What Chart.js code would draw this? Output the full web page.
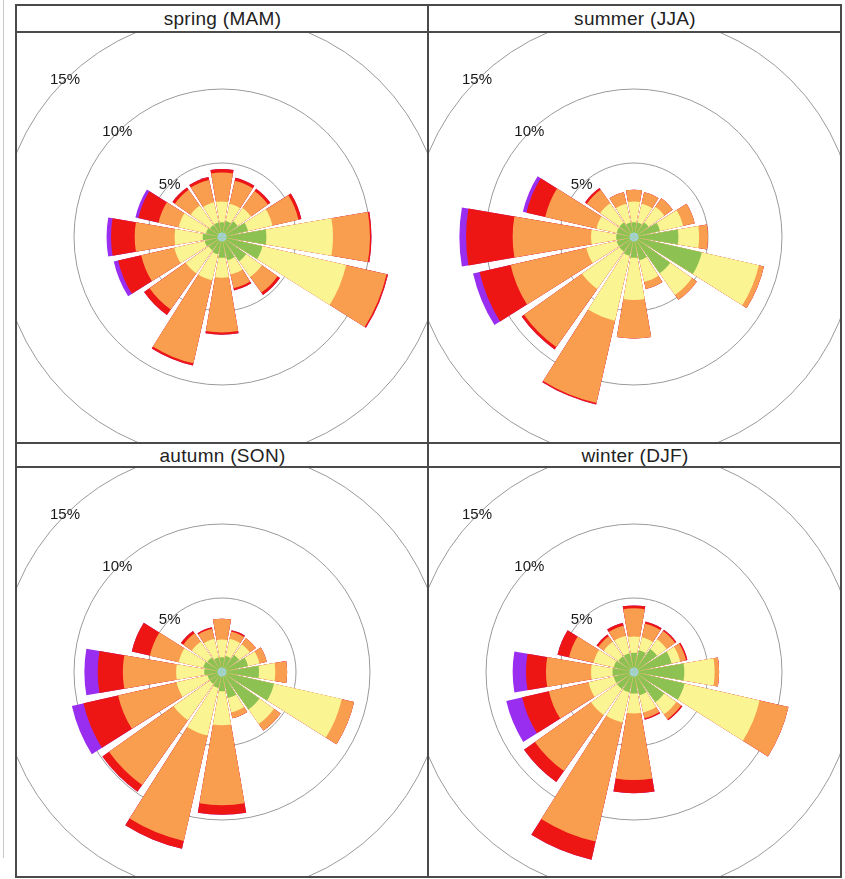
<!DOCTYPE html>
<html>
<head>
<meta charset="utf-8">
<script src="https://cdn.jsdelivr.net/npm/chart.js@4.4.1/dist/chart.umd.min.js"></script>
<style>
  html, body { margin: 0; padding: 0; background: #fff; }
  body { width: 845px; height: 879px; position: relative; overflow: hidden; font-family: "Liberation Sans", Arial, Helvetica, sans-serif; }
  .line { position: absolute; background: #4a4a4a; }
  .faint { position: absolute; background: #c8c8c8; }
  .hdr { position: absolute; text-align: center; font-size: 19px; color: #222; letter-spacing: 0.3px; }
  .plot { position: absolute; overflow: hidden; }
  .plot canvas { position: absolute; }
</style>
</head>
<body>
<div class="faint" style="left:3px;top:0;width:1px;height:858px"></div>

<div class="hdr" style="left:17px;top:5px;width:411px;height:27px;line-height:27px">spring (MAM)</div>
<div class="hdr" style="left:429px;top:5px;width:412px;height:27px;line-height:27px">summer (JJA)</div>
<div class="hdr" style="left:17px;top:443px;width:411px;height:24px;line-height:25px">autumn (SON)</div>
<div class="hdr" style="left:429px;top:443px;width:412px;height:24px;line-height:25px">winter (DJF)</div>

<div class="plot" style="left:17px;top:33px;width:411px;height:410px"><canvas id="c0" width="592" height="592" style="left:-91px;top:-92px;width:592px;height:592px"></canvas></div>
<div class="plot" style="left:429px;top:33px;width:411px;height:410px"><canvas id="c1" width="592" height="592" style="left:-91px;top:-92px;width:592px;height:592px"></canvas></div>
<div class="plot" style="left:17px;top:468px;width:411px;height:409px"><canvas id="c2" width="592" height="592" style="left:-91px;top:-92px;width:592px;height:592px"></canvas></div>
<div class="plot" style="left:429px;top:468px;width:411px;height:409px"><canvas id="c3" width="592" height="592" style="left:-91px;top:-92px;width:592px;height:592px"></canvas></div>

<!-- frame lines -->
<div class="line" style="left:15px;top:4px;width:827px;height:2px"></div>
<div class="line" style="left:15px;top:31px;width:827px;height:2px"></div>
<div class="line" style="left:15px;top:442px;width:827px;height:2px"></div>
<div class="line" style="left:15px;top:466px;width:827px;height:2px"></div>
<div class="line" style="left:15px;top:876px;width:827px;height:2px"></div>
<div class="line" style="left:15px;top:4px;width:2px;height:874px"></div>
<div class="line" style="left:427px;top:4px;width:2px;height:874px"></div>
<div class="line" style="left:840px;top:4px;width:2px;height:874px"></div>

<script>
// ---------------- data (% of time, per wind-direction sector and speed class) ----------------
const directions = ['N','NNE','NE','ENE','E','ESE','SE','SSE','S','SSW','SW','WSW','W','WNW','NW','NNW'];
const seasons = ['spring (MAM)', 'summer (JJA)', 'autumn (SON)', 'winter (DJF)'];
const speedClasses = ['calm', 'class 1', 'class 2', 'class 3', 'class 4', 'class 5'];
const tickValues = [5, 10, 15];
const tickLabels = ['5%', '10%', '15%'];

const springCalm = [0.3,0.3,0.3,0.3,0.3,0.3,0.3,0.3,0.3,0.3,0.3,0.3,0.3,0.3,0.3,0.3];
const springC1 = [0.7,0.8,1.0,1.5,2.7,2.5,1.7,1.3,1.1,0.9,0.8,0.9,1.0,0.8,0.7,0.7];
const springC2 = [1.4,1.2,1.1,1.7,4.5,5.8,1.3,1.0,1.35,1.8,1.9,2.1,1.9,1.9,1.6,1.4];
const springC3 = [1.95,1.6,1.4,1.8,2.5,2.8,1.3,0.95,3.7,5.75,3.0,2.3,2.7,1.4,1.3,1.55];
const springC4 = [0.25,0.2,0.2,0.2,0.1,0.1,0.2,0.15,0.15,0.15,0.45,1.6,1.6,1.4,0.2,0.2];
const springC5 = [0,0,0,0,0,0,0,0,0,0,0,0.3,0.3,0.2,0,0];

const summerCalm = [0.3,0.3,0.3,0.3,0.3,0.3,0.3,0.3,0.3,0.3,0.3,0.3,0.3,0.3,0.3,0.3];
const summerC1 = [0.7,0.7,0.9,1.5,2.7,4.4,2.7,1.3,1.1,1.0,0.9,0.9,0.9,0.9,0.9,0.7];
const summerC2 = [1.4,1.3,1.3,1.6,1.4,3.95,1.8,1.5,2.85,4.5,3.1,2.1,1.7,1.4,1.6,1.3];
const summerC3 = [0.8,0.8,0.7,0.8,0.6,0.35,0.4,0.5,2.6,5.7,4.8,5.25,5.3,3.55,1.1,0.8];
const summerC4 = [0,0,0,0,0,0,0,0,0,0.1,0.2,2.15,3.15,1.3,0.15,0];
const summerC5 = [0,0,0,0,0,0,0,0,0,0,0,0.45,0.45,0.25,0,0];

const autumnCalm = [0.3,0.3,0.3,0.3,0.3,0.3,0.3,0.3,0.3,0.3,0.3,0.3,0.3,0.3,0.3,0.3];
const autumnC1 = [0.7,0.8,1.1,1.5,2.2,3.3,2.8,1.5,1.0,0.8,0.7,0.7,0.9,1.0,0.9,0.7];
const autumnC2 = [1.2,1.2,0.9,0.8,1.1,4.7,1.2,1.0,2.3,3.3,3.0,2.15,1.9,1.7,1.3,1.3];
const autumnC3 = [1.4,0.5,0.5,0.5,0.8,0.85,0.55,0.4,5.4,7.3,5.35,4.05,3.6,2.0,0.7,0.7];
const autumnC4 = [0,0.1,0,0,0,0,0,0,0.65,0.55,0.55,2.4,1.7,1.25,0.2,0.1];
const autumnC5 = [0,0,0,0,0,0,0,0,0,0,0,0.8,0.9,0,0,0];

const winterCalm = [0.3,0.3,0.3,0.3,0.3,0.3,0.3,0.3,0.3,0.3,0.3,0.3,0.3,0.3,0.3,0.3];
const winterC1 = [1.0,1.2,1.6,2.3,3.1,3.2,2.2,1.3,1.15,1.1,1.1,1.1,1.15,1.1,1.0,1.0];
const winterC2 = [1.1,0.9,0.8,0.6,2.05,5.2,1.0,1.2,1.35,2.1,2.15,1.75,1.45,1.4,1.2,1.2];
const winterC3 = [1.9,0.95,0.7,0.4,0.3,2.0,0.4,0.4,4.5,8.25,4.65,2.75,3.05,1.7,0.45,0.7];
const winterC4 = [0.2,0.15,0.1,0.1,0,0,0.1,0.1,0.9,1.25,0.9,1.85,1.35,0.8,0.15,0.2];
const winterC5 = [0,0,0,0,0,0,0,0,0,0,0,1.1,0.9,0,0,0];

// ---------------- styling ----------------
const classColors = ['#9fd6f2', '#8dc152', '#faf592', '#f99e4e', '#ee1515', '#9a2ef0'];
const WEDGE_DEG = 19.5;
const GAP_DEG = 22.5 - WEDGE_DEG;

const seasonClasses = [
  [springCalm, springC1, springC2, springC3, springC4, springC5],
  [summerCalm, summerC1, summerC2, summerC3, summerC4, summerC5],
  [autumnCalm, autumnC1, autumnC2, autumnC3, autumnC4, autumnC5],
  [winterCalm, winterC1, winterC2, winterC3, winterC4, winterC5]
];

// sector labels interleaved with empty separators (gaps between wedges)
const sectorLabels = [];
directions.forEach(d => { sectorLabels.push(d); sectorLabels.push(''); });

function buildDatasets(classes) {
  const cum = directions.map(() => 0);
  const sets = [];
  classes.forEach((vals, k) => {
    vals.forEach((v, i) => { cum[i] += v; });
    const data = [];
    cum.forEach(c => { data.push(+c.toFixed(3)); data.push(0); });
    sets.push({
      label: speedClasses[k],
      data: data,
      backgroundColor: classColors[k],
      borderWidth: 0,
      angle: (ctx) => (ctx.dataIndex % 2 === 0 ? WEDGE_DEG : GAP_DEG)
    });
  });
  return sets; // first dataset (calm) is drawn last, i.e. on top
}

const nwTickLabels = {
  id: 'nwTickLabels',
  afterDatasetsDraw(chart) {
    const s = chart.scales.r;
    const ctx = chart.ctx;
    const startDeg = chart.options.scales.r.startAngle || 0;
    const extra = (-45 - startDeg) * Math.PI / 180;
    ctx.save();
    ctx.font = '15px "Liberation Sans", Arial, sans-serif';
    ctx.fillStyle = '#1a1a1a';
    ctx.textAlign = 'center';
    ctx.textBaseline = 'middle';
    tickValues.forEach((v, i) => {
      const p = s.getPointPosition(0, s.getDistanceFromCenterForValue(v), extra);
      ctx.fillText(tickLabels[i], p.x, p.y);
    });
    ctx.restore();
  }
};

seasonClasses.forEach((classes, idx) => {
  new Chart(document.getElementById('c' + idx), {
    type: 'polarArea',
    data: { labels: sectorLabels, datasets: buildDatasets(classes) },
    options: {
      responsive: false,
      animation: false,
      layout: { padding: 0 },
      plugins: { legend: { display: false }, tooltip: { enabled: false }, title: { display: false } },
      scales: {
        r: {
          min: 0,
          max: 20,
          startAngle: -WEDGE_DEG / 2,
          ticks: { display: false, stepSize: 5 },
          grid: { circular: true, color: '#9a9a9a', lineWidth: 1 },
          angleLines: { display: false },
          pointLabels: { display: false }
        }
      }
    },
    plugins: [nwTickLabels]
  });
});
</script>
</body>
</html>
